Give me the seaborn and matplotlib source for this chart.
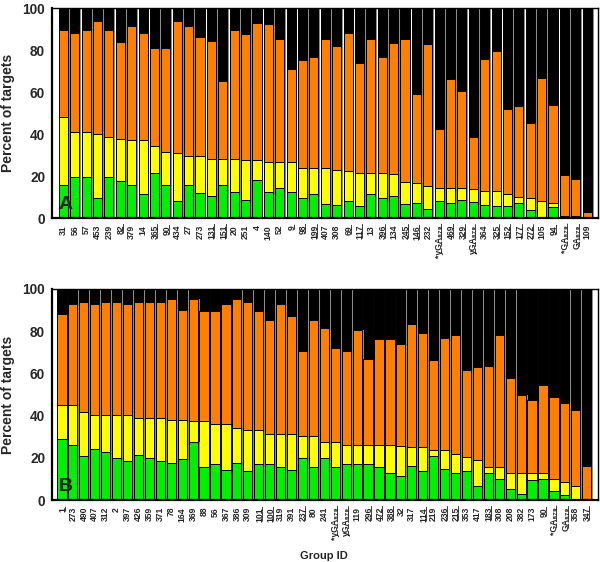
import numpy as np
import pandas as pd
import matplotlib
matplotlib.use("Agg")
import matplotlib.pyplot as plt
import matplotlib.patheffects as pe
import seaborn as sns

# ---------------- data ----------------
groups_a = ["31", "56", "57", "453", "239", "82", "379", "14", "365", "90",
            "434", "27", "273", "131", "151", "20", "251", "4", "140", "52",
            "9", "98", "199", "407", "308", "69", "117", "13", "396", "134",
            "245", "146", "232", "*yGA579", "469", "329", "yGA579", "364", "325", "152",
            "177", "272", "105", "94", "*GA579", "GA579", "109"]
underlined_a = ["82", "365", "90", "131", "151", "9", "98", "199", "69", "117",
                "396", "245", "146", "*yGA579", "469", "329", "yGA579", "325", "152",
                "177", "272", "94", "*GA579", "GA579"]
green_a = [15.5, 19.7, 19.7, 9.6, 19.7, 17.5, 15.5, 11.2, 21.3, 15.6,
           8.2, 15.5, 11.8, 10.3, 15.5, 12.6, 8.5, 17.9, 12.6, 14.1,
           12.6, 9.6, 11.2, 6.8, 6.3, 8.2, 5.5, 11.4, 9.6, 10.3,
           6.8, 7.1, 4.3, 8.1, 7.1, 8.4, 7.7, 6.2, 5.5, 5.5,
           7.1, 3.9, 0.0, 5.2, 1.1, 1.1, 0.0]
yellow_a = [32.7, 21.4, 21.4, 30.2, 18.7, 19.9, 21.5, 25.8, 12.8, 16.0,
            22.9, 14.2, 17.6, 18.0, 12.8, 15.5, 19.3, 9.6, 14.3, 12.8,
            14.3, 14.4, 12.8, 17.2, 16.4, 14.2, 15.8, 9.9, 11.7, 10.6,
            10.3, 9.5, 10.9, 6.1, 7.1, 5.8, 6.0, 6.6, 7.3, 6.0,
            2.9, 5.7, 8.2, 1.9, 0.0, 0.0, 0.0]
orange_a = [41.4, 47.1, 48.5, 54.2, 51.2, 46.2, 54.2, 51.2, 46.9, 49.3,
            62.9, 61.5, 56.9, 56.2, 37.1, 61.5, 59.9, 65.5, 65.5, 58.4,
            44.2, 51.4, 52.9, 61.3, 59.0, 65.8, 52.5, 64.0, 55.6, 62.5,
            68.2, 42.3, 67.6, 28.3, 52.2, 46.5, 25.0, 63.0, 66.5, 40.3,
            43.2, 35.6, 58.5, 46.9, 19.3, 17.5, 2.7]
black_a = [10.4, 11.8, 10.4, 6.0, 10.4, 16.4, 8.8, 11.8, 19.0, 19.1,
           6.0, 8.8, 13.7, 15.5, 34.6, 10.4, 12.3, 7.0, 7.6, 14.7,
           28.9, 24.6, 23.1, 14.7, 18.3, 11.8, 26.2, 14.7, 23.1, 16.6,
           14.7, 41.1, 17.2, 57.5, 33.6, 39.3, 61.3, 24.2, 20.7, 48.2,
           46.8, 54.8, 33.3, 46.0, 79.6, 81.4, 97.3]

groups_b = ["1", "273", "490", "407", "312", "2", "397", "426", "359", "371",
            "78", "164", "369", "88", "56", "367", "386", "309", "101", "100",
            "319", "391", "237", "80", "241", "*yGA579", "yGA579", "119", "296", "472",
            "388", "32", "317", "114", "219", "236", "215", "353", "417", "183",
            "308", "208", "382", "173", "90", "*GA579", "GA579", "358", "347"]
underlined_b = ["1", "101", "100", "237", "*yGA579", "yGA579", "296", "472", "388",
                "114", "236", "215", "183", "90", "*GA579", "GA579", "347"]
green_b = [28.7, 25.9, 20.7, 24.4, 22.7, 20.0, 18.6, 21.5, 20.0, 18.6,
           17.4, 19.6, 27.3, 15.5, 16.9, 14.2, 17.5, 13.6, 17.0, 17.0,
           15.5, 14.0, 20.0, 15.5, 20.0, 15.5, 17.0, 17.0, 17.0, 15.5,
           12.6, 11.5, 15.9, 13.9, 21.0, 14.8, 12.6, 13.9, 6.8, 12.6,
           9.8, 5.4, 2.8, 9.5, 9.8, 4.1, 2.5, 0.0, 0.0]
yellow_b = [16.1, 18.9, 20.8, 16.1, 17.7, 20.4, 21.8, 17.5, 19.0, 20.4,
            20.6, 18.1, 10.1, 21.9, 19.2, 21.9, 16.6, 19.8, 16.0, 14.5,
            16.0, 17.5, 10.1, 14.6, 7.3, 11.8, 8.9, 8.9, 8.9, 10.4,
            13.3, 13.9, 9.0, 11.0, 2.8, 9.0, 9.0, 6.3, 12.0, 3.0,
            5.8, 7.5, 10.1, 3.1, 2.8, 5.7, 5.9, 6.8, 0.0]
orange_b = [43.5, 47.9, 52.3, 52.2, 53.4, 53.4, 52.3, 55.0, 55.0, 55.0,
            57.4, 52.2, 58.0, 52.2, 53.5, 56.6, 61.3, 60.3, 56.6, 53.8,
            61.2, 55.7, 40.7, 55.2, 54.1, 44.9, 44.8, 54.9, 40.7, 50.6,
            50.6, 48.7, 58.5, 54.1, 42.6, 53.2, 56.5, 41.5, 44.1, 47.8,
            62.5, 45.0, 36.8, 34.7, 42.1, 39.1, 37.7, 35.8, 16.2]
black_b = [11.7, 7.3, 6.2, 7.3, 6.2, 6.2, 7.3, 6.0, 6.0, 6.0,
           4.6, 10.1, 4.6, 10.4, 10.4, 7.3, 4.6, 6.3, 10.4, 14.7,
           7.3, 12.8, 29.2, 14.7, 18.6, 27.8, 29.3, 19.2, 33.4, 23.5,
           23.5, 25.9, 16.6, 21.0, 33.6, 23.0, 21.9, 38.3, 37.1, 36.6,
           21.9, 42.1, 50.3, 52.7, 45.3, 51.1, 53.9, 57.4, 83.8]

yticks = [0, 20, 40, 60, 80, 100]
colors = {"black": "#000000", "orange": "#FF8000", "yellow": "#FFFF00", "green": "#00F000"}

# ---------------- style ----------------
sns.set_theme(style="white")
plt.rcParams["font.family"] = ["Liberation Sans", "DejaVu Sans"]

UL = "\u0332"
SUB = str.maketrans("0123456789", "\u2080\u2081\u2082\u2083\u2084\u2085\u2086\u2087\u2088\u2089")


def fmt_label(name, underlined):
    is_ul = name in underlined
    star = ""
    if name.startswith("*"):
        star, name = "*", name[1:]
    if name.endswith("579"):
        name = name[:-3] + "579".translate(SUB)
    if is_ul:
        name = "".join(c + UL for c in name)
    return star + name


def draw_panel(ax, groups, underlined, green, yellow, orange, black, letter, xlim, width):
    labels = [fmt_label(g, set(underlined)) for g in groups]
    segs = np.array([green, yellow, orange, black])
    cum = np.cumsum(segs, axis=0)
    df = pd.DataFrame({"label": labels,
                       "green": cum[0], "yellow": cum[1], "orange": cum[2], "black": cum[3]})
    for key in ["black", "orange", "yellow", "green"]:
        sns.barplot(data=df, x="label", y=key, order=labels, color=colors[key],
                    saturation=1, width=width, edgecolor="black", linewidth=0.7,
                    errorbar=None, ax=ax)
    for p in ax.patches:
        p.set_path_effects([pe.SimplePatchShadow(offset=(1.3, 0), shadow_rgbFace="#8c8c8c", alpha=1.0),
                            pe.Normal()])
    ax.set_xlim(*xlim)
    ax.set_ylim(0, 100)
    ax.set_yticks(yticks)
    ax.set_yticklabels([str(t) for t in yticks], fontsize=9.8, fontweight="bold")
    ax.tick_params(axis="y", length=0, pad=5)
    ax.tick_params(axis="x", length=0, pad=5)
    ax.set_xticks(range(len(labels)))
    ax.set_xticklabels(labels, rotation=90, fontsize=6.2, fontweight="bold")
    ax.set_xlabel("")
    ax.set_ylabel("Percent of targets", fontsize=10, fontweight="bold")
    ax.yaxis.set_label_coords(-0.068, 0.5)
    for side in ["left", "bottom"]:
        ax.spines[side].set_linewidth(1.6)
        ax.spines[side].set_color("black")
    for side in ["top", "right"]:
        ax.spines[side].set_linewidth(1.0)
        ax.spines[side].set_color("black")
    ax.text(0.012, 0.025, letter, transform=ax.transAxes, fontsize=14,
            fontweight="bold", ha="left", va="bottom", zorder=10)


fig = plt.figure(figsize=(6.0, 5.62), dpi=100)
ax_a = fig.add_axes([52 / 600, 1 - 218 / 562, 546 / 600, 210 / 562])
ax_b = fig.add_axes([52 / 600, 1 - 500 / 562, 546 / 600, 211 / 562])

draw_panel(ax_a, groups_a, underlined_a, green_a, yellow_a, orange_a, black_a,
           "A", (-1.0, len(groups_a) - 0.05), 0.8)
draw_panel(ax_b, groups_b, underlined_b, green_b, yellow_b, orange_b, black_b,
           "B", (-0.91, len(groups_b) + 0.03), 0.84)

fig.text(324 / 600, 1 - 556 / 562, "Group ID", ha="center", va="center",
         fontsize=8, fontweight="bold")

fig.savefig("out.png", dpi=100, facecolor="white")
